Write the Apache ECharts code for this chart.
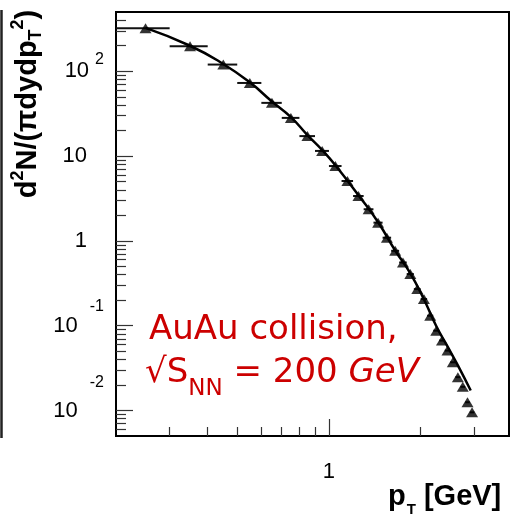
<!DOCTYPE html>
<html><head><meta charset="utf-8">
<script src="https://cdn.jsdelivr.net/npm/echarts@6/dist/echarts.min.js"></script>
<style>html,body{margin:0;padding:0;background:#fff}#c{width:510px;height:523px}</style>
</head><body><div id="c"></div>
<script>
// measured triangles (pT in GeV, yield)
const ptX = [0.25,0.35,0.45,0.55,0.65,0.75,0.85,0.95,1.05,1.15,1.25,1.35,1.45,1.55,1.65,1.75,1.85,1.95,2.05,2.15,2.25,2.35,2.45,2.55,2.65,2.75,2.85,2.95];
const ptY = [321,197,120,72.8,42.4,28.2,17.2,11.5,7.63,5.08,3.38,2.36,1.64,1.09,0.763,0.556,0.406,0.270,0.206,0.131,0.0873,0.0667,0.0508,0.0370,0.0247,0.019,0.0125,0.0095];
const ptXErr = [0.05,0.05,0.05,0.05,0.05,0.05,0.05,0.05,0.05,0.05,0.05,0.05,0.05,0.05,0.05,0.05,0.05,0.05,0.05,0.05,0.05,0.05,0.05,0.05,0.05,0.05,0.05,0.05];
// fit curve
const fitX = [0.25,0.35,0.45,0.55,0.65,0.75,0.85,0.95,1.05,1.25,1.45,1.65,1.85,2.05,2.25,2.45,2.65,2.92];
const fitY = [325,200,122,74,44,28.8,17.7,11.8,7.8,3.45,1.66,0.77,0.415,0.205,0.099,0.057,0.034,0.0172];
// axis ticks
const xMajorTicks = [1];
const xTickLabels = ['1'];
const xMinorTicks = [0.3,0.4,0.5,0.6,0.7,0.8,0.9,2,3];
const yMajorTicks = [0.01,0.1,1,10,100];
const yTickExp = [-2,-1,0,1,2];
const yMinorTicks = [0.006,0.007,0.008,0.009,0.02,0.03,0.04,0.05,0.06,0.07,0.08,0.09,0.2,0.3,0.4,0.5,0.6,0.7,0.8,0.9,2,3,4,5,6,7,8,9,20,30,40,50,60,70,80,90,200,300,400];

const FONT = 'Liberation Sans';
const chart = echarts.init(document.getElementById('c'), null, {renderer:'canvas'});

function yLabel(v){
  const i = yMajorTicks.findIndex(t => Math.abs(t - v) / t < 1e-6);
  if (i < 0) return '';
  const e = yTickExp[i];
  if (e === 0) return '{b|1}{gap| }';
  if (e === 1) return '{b|10}{gap| }';
  const key = e === 2 ? 'e2' : (e === -1 ? 'em1' : 'em2');
  return '{b|10}{' + key + '|' + e + '}';
}
const baseTok = {fontFamily:FONT, fontSize:22, color:'#000', verticalAlign:'middle', lineHeight:24};
const supTok = (pl, pb) => ({fontFamily:FONT, fontSize:16, color:'#000', verticalAlign:'middle', lineHeight:18, padding:[0,1,pb,pl]});

const option = {
  animation:false,
  backgroundColor:'#fff',
  grid:{left:116, top:12, right:1, bottom:87, show:true, borderColor:'#000', borderWidth:2, containLabel:false, outerBoundsMode:'none'},
  xAxis:[
    {type:'log', min:0.2, max:3.9, position:'bottom', gridIndex:0,
     axisLine:{show:true, lineStyle:{color:'#000', width:2}},
     axisTick:{show:true, inside:true, length:17, customValues:xMajorTicks, lineStyle:{color:'#333', width:1.2}},
     axisLabel:{show:true, customValues:xMajorTicks, margin:25, fontFamily:FONT, fontSize:22, color:'#000',
       formatter:(v)=>{const i=xMajorTicks.findIndex(t=>Math.abs(t-v)<1e-9); return i<0?'':xTickLabels[i];}},
     splitLine:{show:false}},
    {type:'log', min:0.2, max:3.9, position:'bottom', gridIndex:0,
     axisLine:{show:false},
     axisTick:{show:true, inside:true, length:9, customValues:xMinorTicks, lineStyle:{color:'#333', width:1.2}},
     axisLabel:{show:false}, splitLine:{show:false}}
  ],
  yAxis:[
    {type:'log', min:0.005, max:500, position:'left', gridIndex:0,
     axisLine:{show:true, lineStyle:{color:'#000', width:2}},
     axisTick:{show:true, inside:true, length:17, customValues:yMajorTicks, lineStyle:{color:'#333', width:1.2}},
     axisLabel:{show:true, customValues:yMajorTicks, margin:11, align:'right', formatter:yLabel,
       rich:{
         b: baseTok,
         gap: {fontFamily:FONT, fontSize:10, width:18, verticalAlign:'middle'},
         e2: supTok(6, 24),
         em1: supTok(12, 38),
         em2: supTok(12, 56)
       }},
     splitLine:{show:false}},
    {type:'log', min:0.005, max:500, position:'left', gridIndex:0,
     axisLine:{show:false},
     axisTick:{show:true, inside:true, length:10, customValues:yMinorTicks, lineStyle:{color:'#333', width:1.2}},
     axisLabel:{show:false}, splitLine:{show:false}}
  ],
  series:[
    {type:'custom', xAxisIndex:0, yAxisIndex:0, silent:true, z:2,
     data: ptX.map((x,i)=>[x, ptY[i], ptXErr[i]]),
     renderItem:(params, api)=>{
       const x=api.value(0), y=api.value(1), e=api.value(2);
       const p1=api.coord([x-e,y]), p2=api.coord([x+e,y]);
       return {type:'line', shape:{x1:p1[0],y1:p1[1],x2:p2[0],y2:p2[1]}, style:{stroke:'#111', lineWidth:2}};
     }},
    {type:'line', xAxisIndex:0, yAxisIndex:0, smooth:true, showSymbol:false, symbol:'none', z:3,
     data: fitX.map((x,i)=>[x, fitY[i]]),
     lineStyle:{color:'#000', width:2.5}},
    {type:'scatter', xAxisIndex:0, yAxisIndex:0, symbol:'triangle', symbolSize:[12,10], z:4,
     data: ptX.map((x,i)=>[x, ptY[i]]),
     itemStyle:{color:'#000'}}
  ],
  graphic:[
    {type:'line', shape:{x1:1.5, y1:10, x2:1.5, y2:438}, style:{stroke:'#222', lineWidth:2.5}},
    {type:'text', x:28, y:104, rotation:Math.PI/2,
     style:{text:'{b|d}{sup|2}{b|N/(πdydp}{sub|T}{sup|2}{b|)}', align:'center', verticalAlign:'middle',
       rich:{
         b:{fontFamily:FONT, fontWeight:'bold', fontSize:29, fill:'#000', verticalAlign:'middle'},
         sup:{fontFamily:FONT, fontWeight:'bold', fontSize:18, fill:'#000', verticalAlign:'middle', padding:[0,0,20,0]},
         sub:{fontFamily:FONT, fontWeight:'bold', fontSize:18, fill:'#000', verticalAlign:'middle', padding:[16,0,0,0]}
       }}},
    {type:'text', x:388, y:497,
     style:{text:'{b|p}{sub|T}{b| [GeV]}', align:'left', verticalAlign:'middle',
       rich:{
         b:{fontFamily:FONT, fontWeight:'bold', fontSize:29, fill:'#000', verticalAlign:'middle'},
         sub:{fontFamily:FONT, fontWeight:'bold', fontSize:15, fill:'#000', verticalAlign:'middle', padding:[26,0,0,1]}
       }}},
    {type:'text', x:149, y:330,
     style:{text:'AuAu collision,', fontFamily:'DejaVu Sans', fontSize:34, fill:'#cc0000', align:'left', verticalAlign:'middle'}},
    {type:'text', x:145, y:373,
     style:{text:'{r|√S}{sub|NN}{r| = 200 }{it|GeV}', align:'left', verticalAlign:'middle',
       rich:{
         r:{fontFamily:'DejaVu Sans', fontSize:34, fill:'#cc0000', verticalAlign:'middle'},
         sub:{fontFamily:'DejaVu Sans', fontSize:23, fill:'#cc0000', verticalAlign:'middle', padding:[32,0,0,0]},
         it:{fontFamily:'DejaVu Sans', fontStyle:'italic', fontSize:34, fill:'#cc0000', verticalAlign:'middle'}
       }}}
  ]
};
chart.setOption(option);
</script></body></html>
